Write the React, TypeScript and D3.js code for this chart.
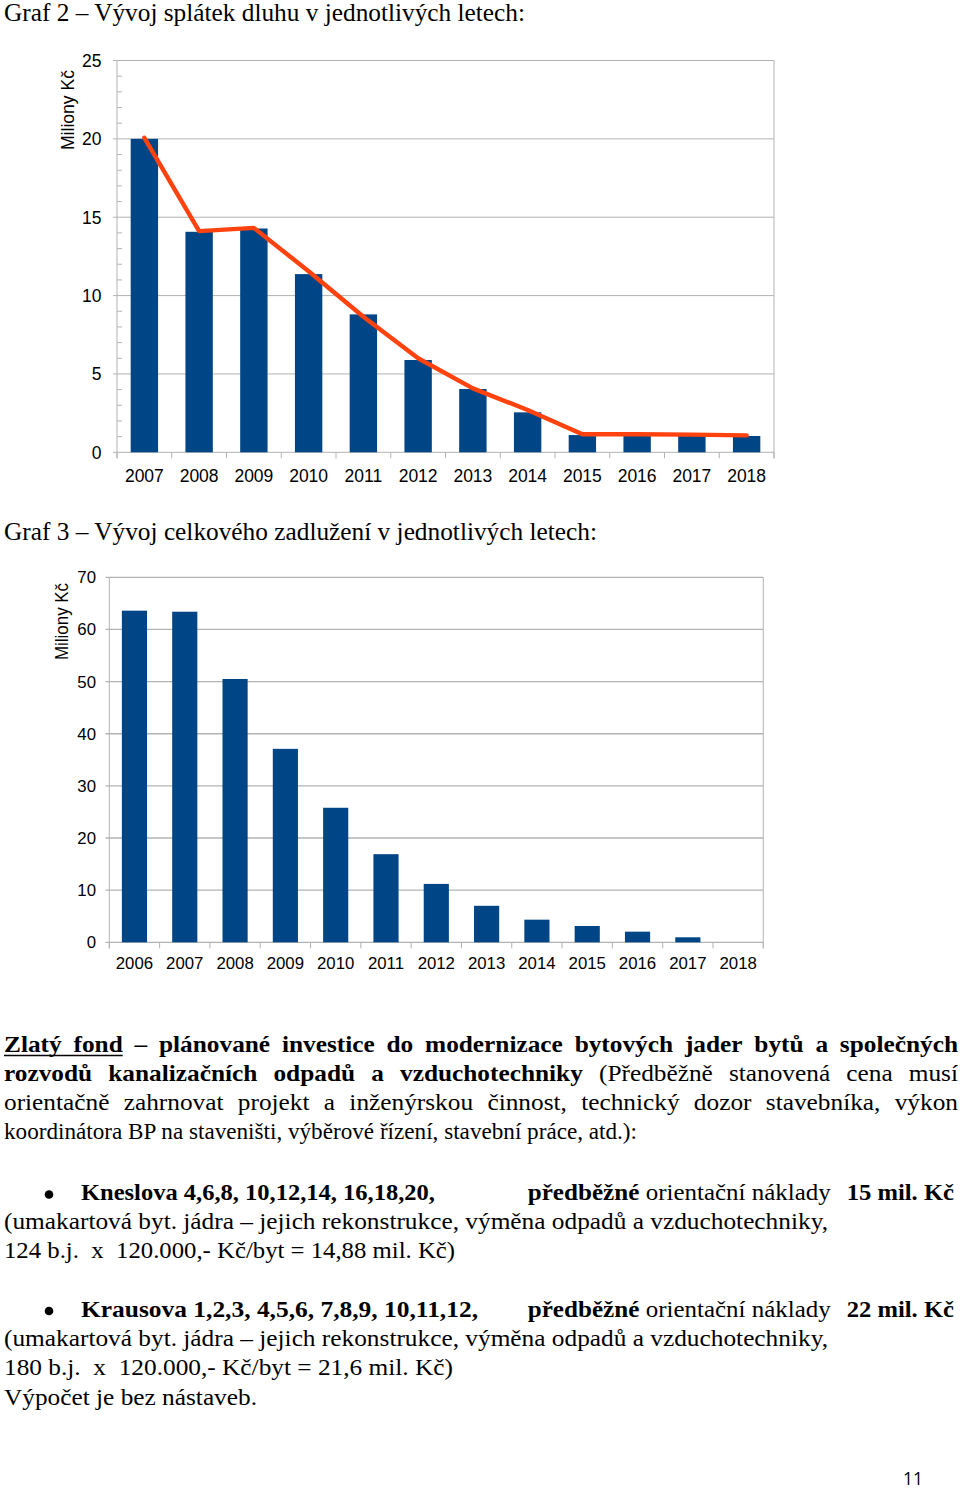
import React, { useMemo } from 'react';
import * as d3 from 'd3';

// ---------- DATA ----------
const years1 = ['2007', '2008', '2009', '2010', '2011', '2012', '2013', '2014', '2015', '2016', '2017', '2018'];
const repayments = [20.0, 14.07, 14.28, 11.37, 8.8, 5.89, 4.04, 2.55, 1.1, 1.1, 1.1, 1.04];
const repaymentTrend = [20.07, 14.11, 14.32, 11.55, 8.65, 6.0, 4.08, 2.7, 1.15, 1.15, 1.13, 1.08];
const yTicks1 = [0, 5, 10, 15, 20, 25];

const years2 = ['2006', '2007', '2008', '2009', '2010', '2011', '2012', '2013', '2014', '2015', '2016', '2017', '2018'];
const totalDebt = [63.6, 63.4, 50.5, 37.1, 25.8, 16.9, 11.2, 7.0, 4.34, 3.13, 2.04, 0.96, 0];
const yTicks2 = [0, 10, 20, 30, 40, 50, 60, 70];

const axisTitle = 'Miliony Kč';
const title1 = 'Graf 2 – Vývoj splátek dluhu v jednotlivých letech:';
const title2 = 'Graf 3 – Vývoj celkového zadlužení v jednotlivých letech:';

// ---------- STYLE ----------
const SERIF = "'Liberation Serif', 'Times New Roman', serif";
const SANS = "'Liberation Sans', Arial, sans-serif";
const BAR = '#004586';
const LINE = '#ff420e';
const GRID = '#b3b3b3';
const FS = 23.5;

let _ctx: CanvasRenderingContext2D | null = null;
function measure(text: string, bold: boolean, size: number, family: string) {
  if (!_ctx) _ctx = document.createElement('canvas').getContext('2d');
  _ctx!.font = `${bold ? 'bold ' : ''}${size}px ${family}`;
  return _ctx!.measureText(text).width;
}

type Word = { t: string; b?: boolean; u?: boolean };

function JustLine({ words, y, x0, x1, hs }: { words: Word[]; y: number; x0: number; x1: number; hs: number }) {
  let widths = words.map((w) => measure(w.t, !!w.b, FS, SERIF) * hs);
  let sum = d3.sum(widths);
  let gap = (x1 - x0 - sum) / (words.length - 1);
  if (gap < 4) {
    const k = (x1 - x0 - 4 * (words.length - 1)) / sum;
    widths = widths.map((w) => w * k);
    sum = d3.sum(widths);
    gap = 4;
  }
  let x = x0;
  const items: any[] = [];
  const uStart: number[] = [];
  let uEnd = 0;
  words.forEach((w, i) => {
    items.push(
      <text key={i} x={x} y={y} fontFamily={SERIF} fontSize={FS} fontWeight={w.b ? 'bold' : 'normal'}
        textLength={widths[i]} lengthAdjust="spacingAndGlyphs">{w.t}</text>
    );
    if (w.u) {
      if (!uStart.length) uStart.push(x);
      uEnd = x + widths[i];
    }
    x += widths[i] + gap;
  });
  return (
    <g>
      {items}
      {uStart.length > 0 && <line x1={uStart[0]} x2={uEnd} y1={y + 3.5} y2={y + 3.5} stroke="#000" strokeWidth={1.6} />}
    </g>
  );
}

function Seg({ t, x0, x1, y, b, size = FS }: { t: string; x0: number; x1: number; y: number; b?: boolean; size?: number }) {
  return (
    <text x={x0} y={y} fontFamily={SERIF} fontSize={size} fontWeight={b ? 'bold' : 'normal'}
      textLength={x1 - x0} lengthAdjust="spacingAndGlyphs" style={{ whiteSpace: 'pre' }}>{t}</text>
  );
}

function Chart1() {
  const x = d3.scaleBand<string>().domain(years1).range([117, 774]).paddingInner(0.5).paddingOuter(0.25);
  const y = d3.scaleLinear().domain([0, 25]).range([452.3, 60.5]);
  const step = x.step();
  const bw = x.bandwidth();
  const line = d3.line<number>().x((_, i) => (x(years1[i]) as number) + bw / 2).y((d) => y(d));
  const minor = d3.range(0, 25, 1).filter((v) => v % 5 !== 0);
  const bounds = d3.range(0, years1.length + 1).map((i) => 117 + i * step);
  return (
    <g>
      {yTicks1.map((t) => (
        <line key={'g' + t} x1={113} x2={774} y1={y(t)} y2={y(t)} stroke={GRID} strokeWidth={1} />
      ))}
      {minor.map((t) => (
        <line key={'m' + t} x1={117} x2={122} y1={y(t)} y2={y(t)} stroke={GRID} strokeWidth={1} />
      ))}
      <line x1={117} x2={117} y1={y(25)} y2={y(0) + 6} stroke={GRID} />
      <line x1={774} x2={774} y1={y(25)} y2={y(0) + 6} stroke={GRID} />
      {bounds.map((bx, i) => (
        <line key={'b' + i} x1={bx} x2={bx} y1={y(0)} y2={y(0) + 6} stroke={GRID} />
      ))}
      {years1.map((yr, i) => (
        <rect key={yr} x={x(yr)} y={y(repayments[i])} width={bw} height={y(0) - y(repayments[i])} fill={BAR} />
      ))}
      <path d={line(repaymentTrend) || ''} fill="none" stroke={LINE} strokeWidth={4.4} strokeLinejoin="round" strokeLinecap="round" />
      {yTicks1.map((t) => (
        <text key={'l' + t} x={101.5} y={y(t)} dy="0.36em" textAnchor="end" fontFamily={SANS} fontSize={17.5} fill="#000">{t}</text>
      ))}
      {years1.map((yr) => (
        <text key={'x' + yr} x={(x(yr) as number) + bw / 2} y={481.5} textAnchor="middle" fontFamily={SANS} fontSize={17.5} fill="#000">{yr}</text>
      ))}
      <text transform="translate(74,110) rotate(-90)" textAnchor="middle" fontFamily={SANS} fontSize={18.5}
        textLength={80} lengthAdjust="spacingAndGlyphs">{axisTitle}</text>
    </g>
  );
}

function Chart2() {
  const x = d3.scaleBand<string>().domain(years2).range([109.3, 763.3]).paddingInner(0.5).paddingOuter(0.25);
  const y = d3.scaleLinear().domain([0, 70]).range([942.3, 577.3]);
  const step = x.step();
  const bw = x.bandwidth();
  const bounds = d3.range(0, years2.length + 1).map((i) => 109.3 + i * step);
  return (
    <g>
      {yTicks2.map((t) => (
        <line key={'g' + t} x1={105.5} x2={763.3} y1={y(t)} y2={y(t)} stroke={GRID} strokeWidth={1.3} />
      ))}
      <line x1={109.3} x2={109.3} y1={y(70)} y2={y(0) + 6} stroke={GRID} />
      <line x1={763.3} x2={763.3} y1={y(70)} y2={y(0) + 6} stroke={GRID} />
      {bounds.map((bx, i) => (
        <line key={'b' + i} x1={bx} x2={bx} y1={y(0)} y2={y(0) + 6} stroke={GRID} />
      ))}
      {years2.map((yr, i) => (
        <rect key={yr} x={x(yr)} y={y(totalDebt[i])} width={bw} height={y(0) - y(totalDebt[i])} fill={BAR} />
      ))}
      {yTicks2.map((t) => (
        <text key={'l' + t} x={96} y={y(t)} dy="0.36em" textAnchor="end" fontFamily={SANS} fontSize={16.8} fill="#000">{t}</text>
      ))}
      {years2.map((yr) => (
        <text key={'x' + yr} x={(x(yr) as number) + bw / 2} y={969} textAnchor="middle" fontFamily={SANS} fontSize={16.8} fill="#000">{yr}</text>
      ))}
      <text transform="translate(68,621.5) rotate(-90)" textAnchor="middle" fontFamily={SANS} fontSize={17.5}
        textLength={77} lengthAdjust="spacingAndGlyphs">{axisTitle}</text>
    </g>
  );
}

const line1: Word[] = [
  { t: 'Zlatý', b: true, u: true }, { t: 'fond', b: true, u: true }, { t: '–', b: true },
  { t: 'plánované', b: true }, { t: 'investice', b: true }, { t: 'do', b: true }, { t: 'modernizace', b: true },
  { t: 'bytových', b: true }, { t: 'jader', b: true }, { t: 'bytů', b: true }, { t: 'a', b: true }, { t: 'společných', b: true },
];
const line2: Word[] = [
  { t: 'rozvodů', b: true }, { t: 'kanalizačních', b: true }, { t: 'odpadů', b: true }, { t: 'a', b: true },
  { t: 'vzduchotechniky', b: true }, { t: '(Předběžně' }, { t: 'stanovená' }, { t: 'cena' }, { t: 'musí' },
];
const line3: Word[] = 'orientačně zahrnovat projekt a inženýrskou činnost, technický dozor stavebníka, výkon'
  .split(' ').map((t) => ({ t }));

export default function App() {
  const hs = useMemo(() => 253 / measure('Výpočet je bez nástaveb.', false, FS, SERIF), []);
  return (
    <svg width={960} height={1491} viewBox="0 0 960 1491"
      style={{ position: 'absolute', left: 0, top: 0, background: '#fff', display: 'block' }}>
      <rect x={0} y={0} width={960} height={1491} fill="#fff" />
      <Seg t={title1} x0={4} x1={525} y={21} size={24.5} />
      <Chart1 />
      <Seg t={title2} x0={4} x1={597} y={540} size={24.5} />
      <Chart2 />

      <JustLine words={line1} y={1052} x0={4} x1={958} hs={hs} />
      <JustLine words={line2} y={1081} x0={4} x1={958} hs={hs} />
      <JustLine words={line3} y={1110} x0={4} x1={958} hs={hs} />
      <Seg t="koordinátora BP na staveništi, výběrové řízení, stavební práce, atd.):" x0={4} x1={637} y={1139} />

      <circle cx={49} cy={1194.5} r={4.3} fill="#000" />
      <Seg t="Kneslova 4,6,8, 10,12,14, 16,18,20," x0={81} x1={435} y={1200} b />
      <Seg t="předběžné" x0={527.7} x1={639.3} y={1200} b />
      <Seg t="orientační náklady" x0={645.7} x1={830.7} y={1200} />
      <Seg t="15 mil. Kč" x0={846.7} x1={954} y={1200} b />
      <Seg t="(umakartová byt. jádra – jejich rekonstrukce, výměna odpadů a vzduchotechniky," x0={4} x1={828} y={1229} />
      <Seg t="124 b.j.  x  120.000,- Kč/byt = 14,88 mil. Kč)" x0={4} x1={455} y={1258} />

      <circle cx={49} cy={1311} r={4.3} fill="#000" />
      <Seg t="Krausova 1,2,3, 4,5,6, 7,8,9, 10,11,12," x0={81} x1={478} y={1317} b />
      <Seg t="předběžné" x0={527.7} x1={639.3} y={1317} b />
      <Seg t="orientační náklady" x0={645.7} x1={830.7} y={1317} />
      <Seg t="22 mil. Kč" x0={846.7} x1={954} y={1317} b />
      <Seg t="(umakartová byt. jádra – jejich rekonstrukce, výměna odpadů a vzduchotechniky," x0={4} x1={828} y={1346} />
      <Seg t="180 b.j.  x  120.000,- Kč/byt = 21,6 mil. Kč)" x0={4} x1={453} y={1375} />
      <Seg t="Výpočet je bez nástaveb." x0={4} x1={257} y={1405} />

      <text x={903} y={1485} fontFamily={"'Open Sans', 'Liberation Sans', sans-serif"} fontSize={18}
        textLength={20} lengthAdjust="spacingAndGlyphs">11</text>
    </svg>
  );
}
